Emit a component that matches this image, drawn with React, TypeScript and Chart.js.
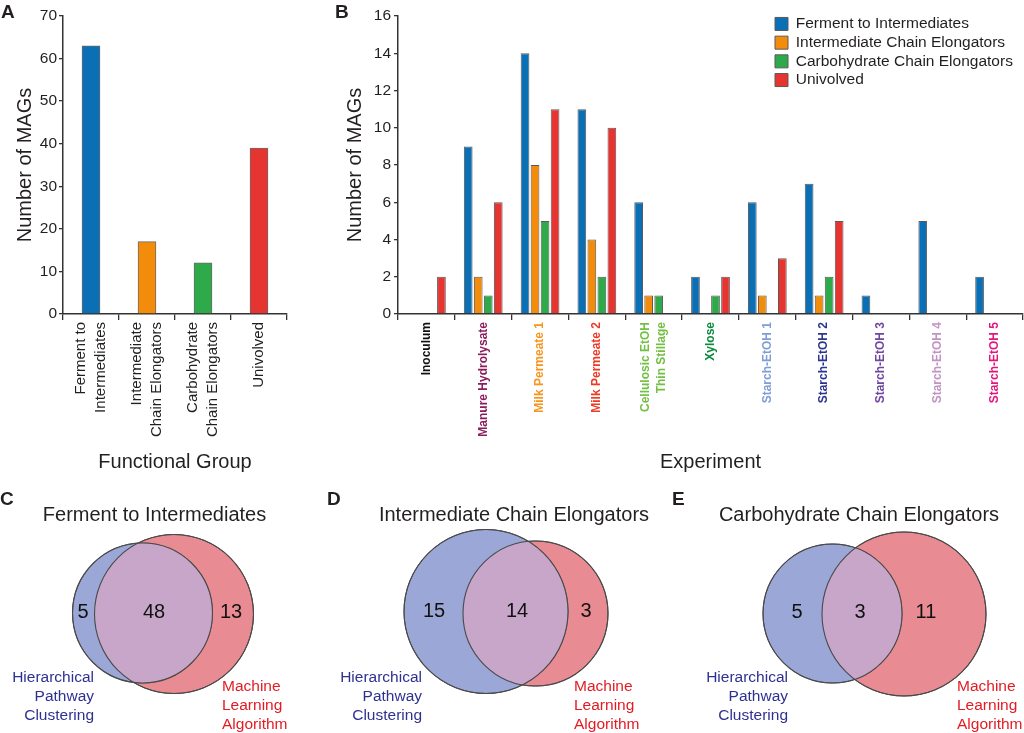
import React, { useEffect, useRef } from "react";
import { Chart, registerables } from "chart.js";

Chart.register(...registerables);

const FONT = "'Liberation Sans', Arial, Helvetica, sans-serif";
const TEXT = "#231f20";
const AXIS = "#333333";

// ---------- Panel A data ----------
const groupLabels: (string | string[])[] = [
  ["Ferment to", "Intermediates"],
  ["Intermediate", "Chain Elongators"],
  ["Carbohydrate", "Chain Elongators"],
  "Univolved",
];
const groupCounts = [63, 17, 12, 39];
const groupColors = ["#0a6fb5", "#f28c0a", "#2eaa4a", "#e63530"];

// ---------- Panel B data ----------
const experiments: (string | string[])[] = [
  "Inoculum",
  "Manure Hydrolysate",
  "Milk Permeate 1",
  "Milk Permeate 2",
  ["Cellulosic EtOH", "Thin Stillage"],
  "Xylose",
  "Starch-EtOH 1",
  "Starch-EtOH 2",
  "Starch-EtOH 3",
  "Starch-EtOH 4",
  "Starch-EtOH 5",
];
const experimentColors = [
  "#111111", "#8b1c5e", "#f7941d", "#ee3a24", "#72bf44", "#0b8a3e",
  "#7f9dd6", "#2b3590", "#7046a0", "#c393c3", "#e5157f",
];
const seriesNames = [
  "Ferment to Intermediates",
  "Intermediate Chain Elongators",
  "Carbohydrate Chain Elongators",
  "Univolved",
];
const fermentToIntermediates = [0, 9, 14, 11, 6, 2, 6, 7, 1, 5, 2];
const intermediateChainElongators = [0, 2, 8, 4, 1, 0, 1, 1, 0, 0, 0];
const carbohydrateChainElongators = [0, 1, 5, 2, 1, 1, 0, 2, 0, 0, 0];
const univolvedCounts = [2, 6, 11, 10, 0, 2, 3, 5, 0, 0, 0];

// ---------- Venn data ----------
const vennTitles = [
  "Ferment to Intermediates",
  "Intermediate Chain Elongators",
  "Carbohydrate Chain Elongators",
];
const hierarchicalOnly = [5, 15, 5];
const sharedCounts = [48, 14, 3];
const machineOnly = [13, 3, 11];
const hierLabel = ["Hierarchical", "Pathway", "Clustering"];
const mlLabel = ["Machine", "Learning", "Algorithm"];

// Venn geometry (layout only)
const vennLayout = [
  { left: 0, blue: [142.5, 123, 70], red: [174, 124, 79.5], nums: [83, 154, 231], title: 154.5, hierRight: 94, mlLeft: 222 },
  { left: 340, blue: [146, 121.5, 82], red: [195.5, 123.5, 72.5], nums: [94, 177, 246], title: 174, hierRight: 82, mlLeft: 234 },
  { left: 684, blue: [148.5, 123.5, 69.5], red: [220, 124, 82], nums: [113, 176, 242], title: 175, hierRight: 104, mlLeft: 273 },
];

const centerMultiline = {
  id: "centerMultiline",
  beforeDraw(chart: any) {
    const sc: any = chart.scales.x;
    if (!sc || !sc.getLabelItems) return;
    const items = sc.getLabelItems();
    items.forEach((it: any) => {
      if (it._centered) return;
      it._centered = true;
      if (Array.isArray(it.label) && it.label.length > 1) {
        const lh = it.font.lineHeight;
        const t = it.options.translation;
        it.options.translation = [t[0] - ((it.label.length - 1) * lh) / 2, t[1]];
      }
    });
  },
};

function axisCommon() {
  return {
    border: { display: true, color: AXIS, width: 1.5 },
  };
}

function configA(): any {
  return {
    type: "bar",
    data: {
      labels: groupLabels,
      datasets: [
        {
          data: groupCounts,
          backgroundColor: groupColors,
          borderColor: "#6b6b6b",
          borderWidth: 1,
          barThickness: 18,
        },
      ],
    },
    options: {
      animation: false,
      responsive: false,
      events: [],
      layout: { padding: { left: 9, top: 16, right: 13, bottom: 0 } },
      plugins: { legend: { display: false }, tooltip: { enabled: false } },
      scales: {
        x: {
          ...axisCommon(),
          grid: { display: true, drawOnChartArea: false, drawTicks: true, tickLength: 6, color: AXIS, lineWidth: 1.3, offset: true },
          ticks: {
            autoSkip: false, maxRotation: 90, minRotation: 90, padding: 2, color: TEXT,
            font: { family: FONT, size: 15, lineHeight: 1.33 },
          },
          title: { display: true, text: "Functional Group", color: TEXT, font: { family: FONT, size: 20 }, padding: { top: 4, bottom: 4 } },
          afterFit: (s: any) => { s.height = 164; },
        },
        y: {
          ...axisCommon(),
          min: 0,
          max: 70,
          grid: { display: true, drawOnChartArea: false, drawTicks: true, tickLength: 4, color: AXIS, lineWidth: 1.3 },
          ticks: { stepSize: 10, padding: 2, color: TEXT, font: { family: FONT, size: 15.5 } },
          title: { display: true, text: "Number of MAGs", color: TEXT, font: { family: FONT, size: 20 }, padding: { top: 4, bottom: 4 } },
          afterFit: (s: any) => { s.width = 54; },
        },
      },
    },
    plugins: [centerMultiline],
  };
}

const moveLegend = {
  id: "moveLegend",
  afterLayout(chart: any) {
    const lg = chart.legend;
    if (!lg) return;
    lg.left = 445 - 3.2;
    lg.top = 13;
    lg.right = chart.width;
    lg.bottom = chart.height;
  },
};

function configB(): any {
  const seriesData = [fermentToIntermediates, intermediateChainElongators, carbohydrateChainElongators, univolvedCounts];
  return {
    type: "bar",
    data: {
      labels: experiments,
      datasets: seriesData.map((d, i) => ({
        label: seriesNames[i],
        data: d,
        backgroundColor: groupColors[i],
        borderColor: "#5a5a5a",
        borderWidth: 1,
        barPercentage: 0.87,
        categoryPercentage: 0.705,
      })),
    },
    options: {
      animation: false,
      responsive: false,
      events: [],
      layout: { padding: { left: 9, top: 16, right: 12, bottom: 0 } },
      plugins: {
        tooltip: { enabled: false },
        legend: {
          display: true,
          position: "chartArea",
          align: "start",
          labels: {
            boxWidth: 13,
            boxHeight: 13,
            padding: 3.2,
            color: TEXT,
            font: { family: FONT, size: 15.5 },
          },
        },
      },
      scales: {
        x: {
          ...axisCommon(),
          grid: { display: true, drawOnChartArea: false, drawTicks: true, tickLength: 6, color: AXIS, lineWidth: 1.3, offset: true },
          ticks: {
            autoSkip: false, maxRotation: 90, minRotation: 90, padding: 2,
            color: (ctx: any) => experimentColors[ctx.index] || TEXT,
            font: { family: FONT, size: 12, weight: "bold", lineHeight: 1.35 },
          },
          title: { display: true, text: "Experiment", color: TEXT, font: { family: FONT, size: 20 }, padding: { top: 4, bottom: 4 } },
          afterFit: (s: any) => { s.height = 164; },
        },
        y: {
          ...axisCommon(),
          min: 0,
          max: 16,
          grid: { display: true, drawOnChartArea: false, drawTicks: true, tickLength: 4, color: AXIS, lineWidth: 1.3 },
          ticks: { stepSize: 2, padding: 3, color: TEXT, font: { family: FONT, size: 15.5 } },
          title: { display: true, text: "Number of MAGs", color: TEXT, font: { family: FONT, size: 20 }, padding: { top: 4, bottom: 4 } },
          afterFit: (s: any) => { s.width = 59; },
        },
      },
    },
    plugins: [centerMultiline, moveLegend],
  };
}

function vennPlugin(i: number) {
  const L = vennLayout[i];
  return {
    id: "vennDecor" + i,
    afterDatasetsDraw(chart: any) {
      const ctx: CanvasRenderingContext2D = chart.ctx;
      const b: any = chart.getDatasetMeta(0).data[0];
      const r: any = chart.getDatasetMeta(1).data[0];
      const rb = b.options.radius;
      const rr = r.options.radius;
      ctx.save();
      ctx.beginPath();
      ctx.arc(b.x, b.y, rb, 0, Math.PI * 2);
      ctx.clip();
      ctx.beginPath();
      ctx.arc(r.x, r.y, rr, 0, Math.PI * 2);
      ctx.fillStyle = "#c8a6c9";
      ctx.fill();
      ctx.restore();

      ctx.save();
      ctx.strokeStyle = "#4a4a4a";
      ctx.lineWidth = 1.1;
      ctx.beginPath();
      ctx.arc(b.x, b.y, rb, 0, Math.PI * 2);
      ctx.stroke();
      ctx.beginPath();
      ctx.arc(r.x, r.y, rr, 0, Math.PI * 2);
      ctx.stroke();

      const xs = chart.scales.x;
      const ys = chart.scales.y;
      const cy = ys.getPixelForValue((L.blue[1] + L.red[1]) / 2 - 1);
      ctx.textBaseline = "middle";
      ctx.textAlign = "center";
      ctx.fillStyle = "#111";
      ctx.font = `20px ${FONT}`;
      const vals = [hierarchicalOnly[i], sharedCounts[i], machineOnly[i]];
      vals.forEach((v, k) => ctx.fillText(String(v), xs.getPixelForValue(L.nums[k]), cy));

      ctx.fillStyle = TEXT;
      ctx.font = `20px ${FONT}`;
      ctx.fillText(vennTitles[i], xs.getPixelForValue(L.title), ys.getPixelForValue(25));

      ctx.font = `15.5px ${FONT}`;
      ctx.textAlign = "right";
      ctx.fillStyle = "#2e3192";
      hierLabel.forEach((t, k) => ctx.fillText(t, xs.getPixelForValue(L.hierRight), ys.getPixelForValue(188 + k * 19)));
      ctx.textAlign = "left";
      ctx.fillStyle = "#e31b23";
      mlLabel.forEach((t, k) => ctx.fillText(t, xs.getPixelForValue(L.mlLeft), ys.getPixelForValue(197 + k * 19)));
      ctx.restore();
    },
  };
}

function configVenn(i: number): any {
  const L = vennLayout[i];
  return {
    type: "bubble",
    data: {
      datasets: [
        {
          label: "Hierarchical Pathway Clustering",
          data: [{ x: L.blue[0], y: L.blue[1], r: L.blue[2] }],
          backgroundColor: "#9ba7d6",
          borderColor: "#4a4a4a",
          borderWidth: 1,
          clip: false,
        },
        {
          label: "Machine Learning Algorithm",
          data: [{ x: L.red[0], y: L.red[1], r: L.red[2] }],
          backgroundColor: "#e98b92",
          borderColor: "#4a4a4a",
          borderWidth: 1,
          clip: false,
        },
      ],
    },
    options: {
      animation: false,
      responsive: false,
      events: [],
      layout: { padding: 0, autoPadding: false },
      plugins: { legend: { display: false }, tooltip: { enabled: false } },
      scales: {
        x: { type: "linear", min: 0, max: 340, display: false },
        y: { type: "linear", min: 0, max: 243, reverse: true, display: false },
      },
    },
    plugins: [vennPlugin(i)],
  };
}

function ChartCanvas(props: { make: () => any; left: number; top: number; width: number; height: number }) {
  const ref = useRef<HTMLCanvasElement | null>(null);
  useEffect(() => {
    if (!ref.current) return;
    const chart = new Chart(ref.current, props.make());
    return () => chart.destroy();
  }, []);
  return (
    <canvas
      ref={ref}
      width={props.width}
      height={props.height}
      style={{ position: "absolute", left: props.left, top: props.top, width: props.width, height: props.height, display: "block" }}
    />
  );
}

function Letter(props: { text: string; left: number; top: number }) {
  return (
    <div
      style={{
        position: "absolute", left: props.left, top: props.top, fontFamily: FONT,
        fontWeight: "bold", fontSize: 19, lineHeight: "19px", color: TEXT,
      }}
    >
      {props.text}
    </div>
  );
}

export default function App() {
  return (
    <div style={{ position: "fixed", left: 0, top: 0, width: 1024, height: 733, overflow: "hidden", background: "#ffffff" }}>
      <ChartCanvas make={configA} left={0} top={0} width={300} height={478} />
      <ChartCanvas make={configB} left={330} top={0} width={705} height={478} />
      <ChartCanvas make={() => configVenn(0)} left={0} top={490} width={340} height={243} />
      <ChartCanvas make={() => configVenn(1)} left={340} top={490} width={340} height={243} />
      <ChartCanvas make={() => configVenn(2)} left={684} top={490} width={340} height={243} />
      <Letter text="A" left={1} top={2} />
      <Letter text="B" left={335} top={2} />
      <Letter text="C" left={0} top={489} />
      <Letter text="D" left={327} top={489} />
      <Letter text="E" left={672} top={489} />
    </div>
  );
}
